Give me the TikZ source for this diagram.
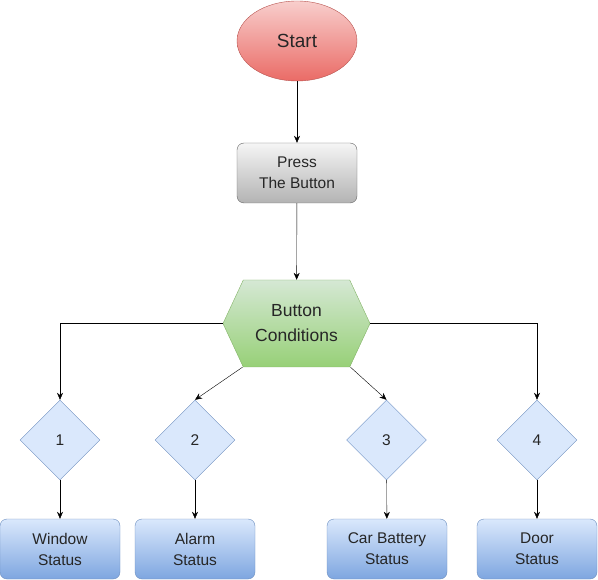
\documentclass[tikz,border=0pt]{standalone}
\usepackage{fontspec}
\setmainfont{Liberation Sans}
\usetikzlibrary{arrows.meta}
\usetikzlibrary{shapes.geometric}
\usetikzlibrary{shapes.symbols}
\definecolor{startline}{HTML}{B85450}
\definecolor{starttop}{HTML}{F8CECC}
\definecolor{startbot}{HTML}{EA6B66}
\definecolor{pressline}{HTML}{666666}
\definecolor{presstop}{HTML}{F5F5F5}
\definecolor{pressbot}{HTML}{B3B3B3}
\definecolor{condline}{HTML}{82B366}
\definecolor{condtop}{HTML}{D5E8D4}
\definecolor{condbot}{HTML}{97D077}
\definecolor{blueline}{HTML}{6C8EBF}
\definecolor{bluetop}{HTML}{DAE8FC}
\definecolor{bluebot}{HTML}{7EA6E0}

\begin{document}
\begin{tikzpicture}[x=1pt,y=-1pt,
	font=\fontsize{15.5}{21}\selectfont,text=black!85,
	>={Stealth[length=7pt,width=6pt]},
	startnode/.style={ellipse,draw=startline,top color=starttop,bottom color=startbot,
		minimum width=120pt,minimum height=80pt,font=\fontsize{19}{23}\selectfont},
	pressbox/.style={rectangle,rounded corners=7pt,draw=pressline,top color=presstop,
		bottom color=pressbot,minimum width=120pt,minimum height=60pt,align=center},
	condbox/.style={signal,signal to=west and east,signal pointer angle=130,draw=condline,
		top color=condtop,bottom color=condbot,minimum width=147pt,minimum height=87pt,
		inner sep=0pt,align=center,font=\fontsize{17.5}{25}\selectfont},
	choice/.style={diamond,draw=blueline,fill=bluetop,minimum width=80pt,minimum height=80pt,
		inner sep=0pt},
	statusbox/.style={rectangle,rounded corners=7pt,draw=blueline,top color=bluetop,
		bottom color=bluebot,minimum width=120pt,minimum height=60pt,align=center}]
	\useasboundingbox (0,0) rectangle (598,580);

	\node[startnode] (start) at (297,41) {Start};
	\node[pressbox] (press) at (297,173) {Press\\The Button};
	\node[condbox] (cond) at (296.5,323.5) {Button\\Conditions};

	\node[choice] (c1) at (60,440) {1};
	\node[choice] (c2) at (195,440) {2};
	\node[choice] (c3) at (386.5,440) {3};
	\node[choice] (c4) at (537,440) {4};

	\node[statusbox] (s1) at (60,549) {Window\\Status};
	\node[statusbox] (s2) at (195,549) {Alarm\\Status};
	\node[statusbox] (s3) at (387,549) {Car Battery\\Status};
	\node[statusbox] (s4) at (537,549) {Door\\Status};

	\draw[->] (start) -- (press);
	\draw[->] (press) -- (cond);
	\draw[->] (cond.west) -| (c1.north);
	\draw[->] (cond.east) -| (c4.north);
	\draw[->] ([xshift=-54pt]cond.south) -- (c2.north);
	\draw[->] ([xshift=54pt]cond.south) -- (c3.north);

	\foreach \n in {1,2,3,4}
		\draw[->] (c\n) -- (s\n);
\end{tikzpicture}
\end{document}
